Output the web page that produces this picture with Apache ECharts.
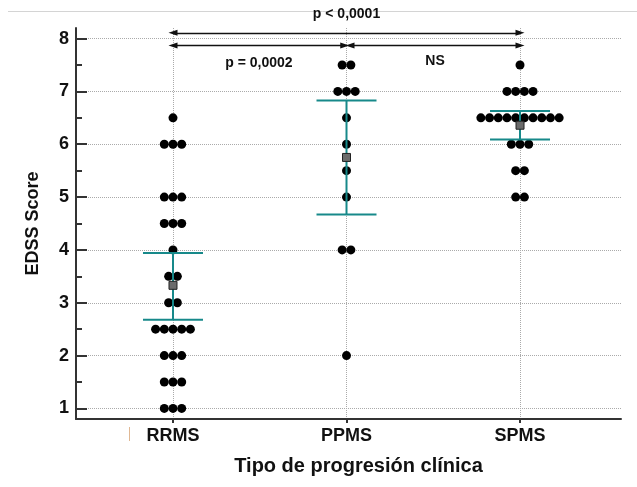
<!DOCTYPE html>
<html>
<head>
<meta charset="utf-8">
<title>EDSS Score</title>
<script src="https://cdn.jsdelivr.net/npm/echarts@6/dist/echarts.min.js"></script>
<style>
  html, body { margin: 0; padding: 0; background: #fff; }
  #chart { width: 637px; height: 487px; }
</style>
</head>
<body>
<div id="chart"></div>
<script>
// datos
var grupos = ['RRMS', 'PPMS', 'SPMS'];
var rrms = [6.5, 6, 6, 6, 5, 5, 5, 4.5, 4.5, 4.5, 4, 3.5, 3.5, 3, 3,
            2.5, 2.5, 2.5, 2.5, 2.5, 2, 2, 2, 1.5, 1.5, 1.5, 1, 1, 1];
var ppms = [7.5, 7.5, 7, 7, 7, 6.5, 6, 5.5, 5, 4, 4, 2];
var spms = [7.5, 7, 7, 7, 7, 6.5, 6.5, 6.5, 6.5, 6.5, 6.5, 6.5, 6.5, 6.5, 6.5,
            6, 6, 6, 5.5, 5.5, 5, 5];
var medias = [3.33, 5.75, 6.36];
var icInf = [2.68, 4.67, 6.09];
var icSup = [3.94, 6.83, 6.63];
var yTicks = [1, 2, 3, 4, 5, 6, 7, 8];
var yMinor = [1.5, 2.5, 3.5, 4.5, 5.5, 6.5, 7.5];
var xTicks = [1, 2, 3];

var fuente = 'Liberation Sans, Arial, sans-serif';

// puntos con el mismo valor se reparten en horizontal (tipo swarm)
function swarm(vals, xi) {
  var cuenta = {}, visto = {};
  vals.forEach(function (v) { cuenta[v] = (cuenta[v] || 0) + 1; });
  return vals.map(function (v) {
    var n = cuenta[v], k = visto[v] || 0;
    visto[v] = k + 1;
    return { value: [xi, v], symbolOffset: [(k - (n - 1) / 2) * 8.7, 0] };
  });
}

var puntos = [].concat(swarm(rrms, 1), swarm(ppms, 2), swarm(spms, 3));

var flecha = {
  show: true, color: '#111', fontFamily: fuente, fontWeight: 'bold', fontSize: 14
};

var option = {
  animation: false,
  textStyle: { fontFamily: fuente },
  grid: { left: 76, top: 28, right: 16, bottom: 68 },
  xAxis: {
    type: 'value', min: 0.441, max: 3.582,
    name: 'Tipo de progresión clínica',
    nameLocation: 'middle', nameGap: 37,
    nameTextStyle: { fontSize: 20, fontWeight: 'bold', color: '#111', padding: [0, 0, 0, 20] },
    axisLine: { lineStyle: { color: '#333', width: 2 } },
    axisTick: { customValues: xTicks, length: 4, lineStyle: { color: '#333', width: 2 } },
    axisLabel: {
      customValues: xTicks, margin: 8, fontSize: 18, fontWeight: 'bold', color: '#111',
      formatter: function (v) { return grupos[v - 1]; }
    },
    splitLine: { show: true, lineStyle: { color: '#aaa', type: 'dotted', width: 1 } }
  },
  yAxis: [{
    type: 'value', min: 0.8, max: 8.2,
    name: 'EDSS Score',
    nameLocation: 'middle', nameGap: 34,
    nameTextStyle: { fontSize: 18, fontWeight: 'bold', color: '#111' },
    axisLine: { show: true, lineStyle: { color: '#333', width: 2 } },
    axisTick: { inside: true, customValues: yTicks, length: 11, lineStyle: { color: '#333', width: 2 } },
    axisLabel: { customValues: yTicks, margin: 7, fontSize: 18, fontWeight: 'bold', color: '#111' },
    splitLine: { show: true, lineStyle: { color: '#aaa', type: 'dotted', width: 1 } }
  }, {
    // solo para las marcas menores
    type: 'value', min: 0.8, max: 8.2, position: 'left',
    axisLine: { show: false },
    axisTick: { show: true, inside: true, customValues: yMinor, length: 6, lineStyle: { color: '#333', width: 2 } },
    axisLabel: { show: false },
    splitLine: { show: false }
  }],
  series: [{
    name: 'pacientes', type: 'scatter', symbol: 'circle', symbolSize: 9,
    itemStyle: { color: '#000', opacity: 1 },
    data: puntos, z: 3, silent: true
  }, {
    name: 'IC 95%', type: 'custom', z: 4, silent: true,
    data: grupos.map(function (g, i) { return [i + 1, icInf[i], icSup[i]]; }),
    encode: { x: 0, y: [1, 2] },
    renderItem: function (params, api) {
      var x = api.value(0);
      var lo = api.coord([x, api.value(1)]);
      var hi = api.coord([x, api.value(2)]);
      var st = { stroke: '#17898a', lineWidth: 2 };
      return {
        type: 'group', children: [
          { type: 'line', shape: { x1: lo[0], y1: lo[1], x2: hi[0], y2: hi[1] }, style: st },
          { type: 'line', shape: { x1: lo[0] - 30, y1: lo[1], x2: lo[0] + 30, y2: lo[1] }, style: st },
          { type: 'line', shape: { x1: hi[0] - 30, y1: hi[1], x2: hi[0] + 30, y2: hi[1] }, style: st }
        ]
      };
    }
  }, {
    name: 'media', type: 'scatter', symbol: 'rect', symbolSize: 8, z: 5, silent: true,
    itemStyle: { color: '#6b6b6b', borderColor: '#222', borderWidth: 1, opacity: 1 },
    data: medias.map(function (m, i) { return [i + 1, m]; })
  }, {
    name: 'comparaciones', type: 'line', data: [], silent: true,
    markLine: {
      silent: true, symbol: ['triangle', 'triangle'], symbolSize: [6, 9],
      lineStyle: { color: '#111', width: 1.3, type: 'solid' },
      emphasis: { disabled: true },
      data: [
        [{ coord: [1, 8.11], label: Object.assign({ formatter: 'p < 0,0001', position: 'middle', distance: 12 }, flecha) },
         { coord: [3, 8.11] }],
        [{ coord: [1, 7.87], label: Object.assign({ formatter: 'p = 0,0002', position: 'insideMiddleBottom', distance: 11 }, flecha) },
         { coord: [1.99, 7.87] }],
        [{ coord: [2.02, 7.87], label: Object.assign({ formatter: 'NS', position: 'insideMiddleBottom', distance: 9 }, flecha) },
         { coord: [3, 7.87] }]
      ]
    }
  }],
  graphic: [
    { type: 'line', shape: { x1: 8, y1: 11.5, x2: 637, y2: 11.5 }, style: { stroke: '#d4d4d4', lineWidth: 1 }, z: -1 },
    { type: 'line', shape: { x1: 129.5, y1: 427, x2: 129.5, y2: 441 }, style: { stroke: '#e0b894', lineWidth: 1 } }
  ]
};

var chart = echarts.init(document.getElementById('chart'));
chart.setOption(option);
</script>
</body>
</html>
